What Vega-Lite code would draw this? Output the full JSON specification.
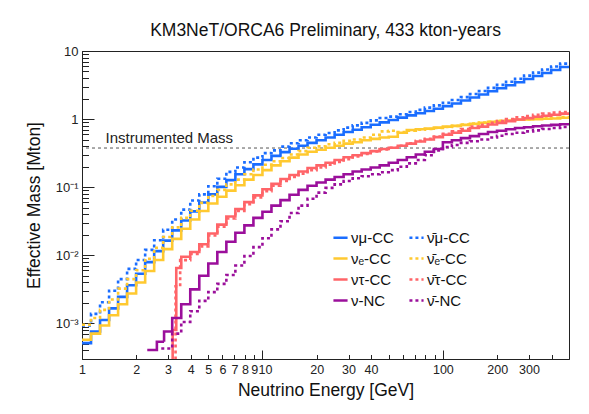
{
  "$schema": "https://vega.github.io/schema/vega-lite/v6.json",
  "width": 487,
  "height": 308,
  "autosize": "none",
  "padding": {"left": 82, "top": 51, "right": 20, "bottom": 55},
  "background": "white",
  "title": {"text": "KM3NeT/ORCA6 Preliminary, 433 kton-years", "fontSize": 17.5, "fontWeight": "normal", "font": "Liberation Sans", "color": "#111", "anchor": "middle", "offset": 6},
  "config": {
    "view": {"stroke": "#222", "strokeWidth": 1},
    "font": "Liberation Sans",
    "axis": {"labelFont": "Liberation Sans", "labelFontSize": 13, "labelColor": "#222", "titleFont": "Liberation Sans", "titleFontSize": 17.5, "titleFontWeight": "normal", "titleColor": "#111", "domainColor": "#222", "tickColor": "#222", "grid": false, "labelOverlap": false, "labelBound": false, "labelFlush": false}
  },
  "resolve": {"axis": {"x": "independent", "y": "independent"}},
  "datasets": {
    "h": [
      {"s":"mu","e":1,"m":0.000513},{"s":"mu","e":1.122,"m":0.000759},{"s":"mu","e":1.259,"m":0.00112},{"s":"mu","e":1.413,"m":0.00166},{"s":"mu","e":1.585,"m":0.00245},{"s":"mu","e":1.778,"m":0.00363},{"s":"mu","e":1.995,"m":0.00537},{"s":"mu","e":2.239,"m":0.00794},{"s":"mu","e":2.512,"m":0.0115},{"s":"mu","e":2.818,"m":0.0164},{"s":"mu","e":3.162,"m":0.0232},{"s":"mu","e":3.548,"m":0.0324},{"s":"mu","e":3.981,"m":0.0442},{"s":"mu","e":4.467,"m":0.0596},{"s":"mu","e":5.012,"m":0.0785},{"s":"mu","e":5.623,"m":0.101},{"s":"mu","e":6.31,"m":0.127},{"s":"mu","e":7.079,"m":0.155},{"s":"mu","e":7.943,"m":0.184},{"s":"mu","e":8.913,"m":0.216},{"s":"mu","e":10,"m":0.251},{"s":"mu","e":11.22,"m":0.288},{"s":"mu","e":12.59,"m":0.327},{"s":"mu","e":14.13,"m":0.367},{"s":"mu","e":15.85,"m":0.407},{"s":"mu","e":17.78,"m":0.447},{"s":"mu","e":19.95,"m":0.49},{"s":"mu","e":22.39,"m":0.537},{"s":"mu","e":25.12,"m":0.589},{"s":"mu","e":28.18,"m":0.646},{"s":"mu","e":31.62,"m":0.697},{"s":"mu","e":35.48,"m":0.759},{"s":"mu","e":39.81,"m":0.826},{"s":"mu","e":44.67,"m":0.895},{"s":"mu","e":50.12,"m":0.97},{"s":"mu","e":56.23,"m":1.052},{"s":"mu","e":63.1,"m":1.135},{"s":"mu","e":70.79,"m":1.216},{"s":"mu","e":79.43,"m":1.312},{"s":"mu","e":89.13,"m":1.419},{"s":"mu","e":100,"m":1.549},{"s":"mu","e":112.2,"m":1.698},{"s":"mu","e":125.9,"m":1.871},{"s":"mu","e":141.3,"m":2.08},{"s":"mu","e":158.5,"m":2.301},{"s":"mu","e":177.8,"m":2.559},{"s":"mu","e":199.5,"m":2.831},{"s":"mu","e":223.9,"m":3.148},{"s":"mu","e":251.2,"m":3.483},{"s":"mu","e":281.8,"m":3.873},{"s":"mu","e":316.2,"m":4.285},{"s":"mu","e":354.8,"m":4.764},{"s":"mu","e":398.1,"m":5.272},{"s":"mu","e":446.7,"m":5.821},{"s":"mu","e":501.2,"m":5.821},

      {"s":"amu","e":1,"m":0.000933},{"s":"amu","e":1.122,"m":0.00138},{"s":"amu","e":1.259,"m":0.00204},{"s":"amu","e":1.413,"m":0.00302},{"s":"amu","e":1.585,"m":0.00447},{"s":"amu","e":1.778,"m":0.00631},{"s":"amu","e":1.995,"m":0.00851},{"s":"amu","e":2.239,"m":0.012},{"s":"amu","e":2.512,"m":0.0166},{"s":"amu","e":2.818,"m":0.0237},{"s":"amu","e":3.162,"m":0.0335},{"s":"amu","e":3.548,"m":0.0468},{"s":"amu","e":3.981,"m":0.0638},{"s":"amu","e":4.467,"m":0.0785},{"s":"amu","e":5.012,"m":0.1035},{"s":"amu","e":5.623,"m":0.133},{"s":"amu","e":6.31,"m":0.168},{"s":"amu","e":7.079,"m":0.195},{"s":"amu","e":7.943,"m":0.232},{"s":"amu","e":8.913,"m":0.272},{"s":"amu","e":10,"m":0.316},{"s":"amu","e":11.22,"m":0.347},{"s":"amu","e":12.59,"m":0.394},{"s":"amu","e":14.13,"m":0.442},{"s":"amu","e":15.85,"m":0.49},{"s":"amu","e":17.78,"m":0.537},{"s":"amu","e":19.95,"m":0.589},{"s":"amu","e":22.39,"m":0.624},{"s":"amu","e":25.12,"m":0.684},{"s":"amu","e":28.18,"m":0.75},{"s":"amu","e":31.62,"m":0.809},{"s":"amu","e":35.48,"m":0.881},{"s":"amu","e":39.81,"m":0.959},{"s":"amu","e":44.67,"m":1.04},{"s":"amu","e":50.12,"m":1.089},{"s":"amu","e":56.23,"m":1.18},{"s":"amu","e":63.1,"m":1.274},{"s":"amu","e":70.79,"m":1.365},{"s":"amu","e":79.43,"m":1.472},{"s":"amu","e":89.13,"m":1.592},{"s":"amu","e":100,"m":1.738},{"s":"amu","e":112.2,"m":1.905},{"s":"amu","e":125.9,"m":2.099},{"s":"amu","e":141.3,"m":2.333},{"s":"amu","e":158.5,"m":2.582},{"s":"amu","e":177.8,"m":2.871},{"s":"amu","e":199.5,"m":3.177},{"s":"amu","e":223.9,"m":3.532},{"s":"amu","e":251.2,"m":3.908},{"s":"amu","e":281.8,"m":4.345},{"s":"amu","e":316.2,"m":4.808},{"s":"amu","e":354.8,"m":5.346},{"s":"amu","e":398.1,"m":5.916},{"s":"amu","e":446.7,"m":6.531},{"s":"amu","e":501.2,"m":6.531},

      {"s":"e","e":1,"m":0.000575},{"s":"e","e":1.122,"m":0.000708},{"s":"e","e":1.259,"m":0.000933},{"s":"e","e":1.413,"m":0.00132},{"s":"e","e":1.585,"m":0.00191},{"s":"e","e":1.778,"m":0.00275},{"s":"e","e":1.995,"m":0.00398},{"s":"e","e":2.239,"m":0.00589},{"s":"e","e":2.512,"m":0.00851},{"s":"e","e":2.818,"m":0.0123},{"s":"e","e":3.162,"m":0.0174},{"s":"e","e":3.548,"m":0.0245},{"s":"e","e":3.981,"m":0.0335},{"s":"e","e":4.467,"m":0.0447},{"s":"e","e":5.012,"m":0.0575},{"s":"e","e":5.623,"m":0.0724},{"s":"e","e":6.31,"m":0.0891},{"s":"e","e":7.079,"m":0.107},{"s":"e","e":7.943,"m":0.129},{"s":"e","e":8.913,"m":0.151},{"s":"e","e":10,"m":0.178},{"s":"e","e":11.22,"m":0.209},{"s":"e","e":12.59,"m":0.24},{"s":"e","e":14.13,"m":0.272},{"s":"e","e":15.85,"m":0.302},{"s":"e","e":17.78,"m":0.331},{"s":"e","e":19.95,"m":0.355},{"s":"e","e":22.39,"m":0.38},{"s":"e","e":25.12,"m":0.407},{"s":"e","e":28.18,"m":0.437},{"s":"e","e":31.62,"m":0.457},{"s":"e","e":35.48,"m":0.49},{"s":"e","e":39.81,"m":0.513},{"s":"e","e":44.67,"m":0.537},{"s":"e","e":50.12,"m":0.55},{"s":"e","e":56.23,"m":0.631},{"s":"e","e":63.1,"m":0.692},{"s":"e","e":70.79,"m":0.708},{"s":"e","e":79.43,"m":0.724},{"s":"e","e":89.13,"m":0.75},{"s":"e","e":100,"m":0.776},{"s":"e","e":112.2,"m":0.794},{"s":"e","e":125.9,"m":0.822},{"s":"e","e":141.3,"m":0.851},{"s":"e","e":158.5,"m":0.881},{"s":"e","e":177.8,"m":0.912},{"s":"e","e":199.5,"m":0.933},{"s":"e","e":223.9,"m":0.955},{"s":"e","e":251.2,"m":0.977},{"s":"e","e":281.8,"m":0.989},{"s":"e","e":316.2,"m":1.0},{"s":"e","e":354.8,"m":1.012},{"s":"e","e":398.1,"m":1.023},{"s":"e","e":446.7,"m":1.047},{"s":"e","e":501.2,"m":1.047},

      {"s":"ae","e":1,"m":0.000955},{"s":"ae","e":1.122,"m":0.0012},{"s":"ae","e":1.259,"m":0.00158},{"s":"ae","e":1.413,"m":0.00224},{"s":"ae","e":1.585,"m":0.00324},{"s":"ae","e":1.778,"m":0.00447},{"s":"ae","e":1.995,"m":0.00603},{"s":"ae","e":2.239,"m":0.00891},{"s":"ae","e":2.512,"m":0.0129},{"s":"ae","e":2.818,"m":0.0186},{"s":"ae","e":3.162,"m":0.0257},{"s":"ae","e":3.548,"m":0.0355},{"s":"ae","e":3.981,"m":0.0452},{"s":"ae","e":4.467,"m":0.0589},{"s":"ae","e":5.012,"m":0.0741},{"s":"ae","e":5.623,"m":0.0912},{"s":"ae","e":6.31,"m":0.11},{"s":"ae","e":7.079,"m":0.129},{"s":"ae","e":7.943,"m":0.155},{"s":"ae","e":8.913,"m":0.182},{"s":"ae","e":10,"m":0.214},{"s":"ae","e":11.22,"m":0.24},{"s":"ae","e":12.59,"m":0.269},{"s":"ae","e":14.13,"m":0.302},{"s":"ae","e":15.85,"m":0.339},{"s":"ae","e":17.78,"m":0.38},{"s":"ae","e":19.95,"m":0.398},{"s":"ae","e":22.39,"m":0.427},{"s":"ae","e":25.12,"m":0.447},{"s":"ae","e":28.18,"m":0.479},{"s":"ae","e":31.62,"m":0.501},{"s":"ae","e":35.48,"m":0.537},{"s":"ae","e":39.81,"m":0.589},{"s":"ae","e":44.67,"m":0.661},{"s":"ae","e":50.12,"m":0.676},{"s":"ae","e":56.23,"m":0.646},{"s":"ae","e":63.1,"m":0.676},{"s":"ae","e":70.79,"m":0.7},{"s":"ae","e":79.43,"m":0.716},{"s":"ae","e":89.13,"m":0.741},{"s":"ae","e":100,"m":0.767},{"s":"ae","e":112.2,"m":0.794},{"s":"ae","e":125.9,"m":0.832},{"s":"ae","e":141.3,"m":0.861},{"s":"ae","e":158.5,"m":0.891},{"s":"ae","e":177.8,"m":0.912},{"s":"ae","e":199.5,"m":0.944},{"s":"ae","e":223.9,"m":0.966},{"s":"ae","e":251.2,"m":0.989},{"s":"ae","e":281.8,"m":1.0},{"s":"ae","e":316.2,"m":1.012},{"s":"ae","e":354.8,"m":1.035},{"s":"ae","e":398.1,"m":1.047},{"s":"ae","e":446.7,"m":1.072},{"s":"ae","e":501.2,"m":1.072},

      {"s":"t","e":2.9,"m":0.0001},{"s":"t","e":3.18,"m":0.0008},{"s":"t","e":3.33,"m":0.0065},{"s":"t","e":3.55,"m":0.0095},{"s":"t","e":3.981,"m":0.0112},{"s":"t","e":4.467,"m":0.0145},{"s":"t","e":5.012,"m":0.0209},{"s":"t","e":5.623,"m":0.0282},{"s":"t","e":6.31,"m":0.0372},{"s":"t","e":7.079,"m":0.0479},{"s":"t","e":7.943,"m":0.0603},{"s":"t","e":8.913,"m":0.0759},{"s":"t","e":10,"m":0.0933},{"s":"t","e":11.22,"m":0.112},{"s":"t","e":12.59,"m":0.132},{"s":"t","e":14.13,"m":0.151},{"s":"t","e":15.85,"m":0.17},{"s":"t","e":17.78,"m":0.191},{"s":"t","e":19.95,"m":0.209},{"s":"t","e":22.39,"m":0.229},{"s":"t","e":25.12,"m":0.251},{"s":"t","e":28.18,"m":0.275},{"s":"t","e":31.62,"m":0.295},{"s":"t","e":35.48,"m":0.316},{"s":"t","e":39.81,"m":0.339},{"s":"t","e":44.67,"m":0.363},{"s":"t","e":50.12,"m":0.38},{"s":"t","e":56.23,"m":0.407},{"s":"t","e":63.1,"m":0.437},{"s":"t","e":70.79,"m":0.468},{"s":"t","e":79.43,"m":0.501},{"s":"t","e":89.13,"m":0.543},{"s":"t","e":100,"m":0.589},{"s":"t","e":112.2,"m":0.631},{"s":"t","e":125.9,"m":0.676},{"s":"t","e":141.3,"m":0.741},{"s":"t","e":158.5,"m":0.776},{"s":"t","e":177.8,"m":0.832},{"s":"t","e":199.5,"m":0.881},{"s":"t","e":223.9,"m":0.933},{"s":"t","e":251.2,"m":0.989},{"s":"t","e":281.8,"m":1.035},{"s":"t","e":316.2,"m":1.084},{"s":"t","e":354.8,"m":1.122},{"s":"t","e":398.1,"m":1.161},{"s":"t","e":446.7,"m":1.202},{"s":"t","e":501.2,"m":1.202},

      {"s":"at","e":2.9,"m":0.0001},{"s":"at","e":3.3,"m":0.0035},{"s":"at","e":3.5,"m":0.0085},{"s":"at","e":3.981,"m":0.0105},{"s":"at","e":4.467,"m":0.0135},{"s":"at","e":5.012,"m":0.0195},{"s":"at","e":5.623,"m":0.0263},{"s":"at","e":6.31,"m":0.0347},{"s":"at","e":7.079,"m":0.0447},{"s":"at","e":7.943,"m":0.0562},{"s":"at","e":8.913,"m":0.0708},{"s":"at","e":10,"m":0.0871},{"s":"at","e":11.22,"m":0.105},{"s":"at","e":12.59,"m":0.123},{"s":"at","e":14.13,"m":0.141},{"s":"at","e":15.85,"m":0.158},{"s":"at","e":17.78,"m":0.178},{"s":"at","e":19.95,"m":0.195},{"s":"at","e":22.39,"m":0.214},{"s":"at","e":25.12,"m":0.234},{"s":"at","e":28.18,"m":0.257},{"s":"at","e":31.62,"m":0.282},{"s":"at","e":35.48,"m":0.309},{"s":"at","e":39.81,"m":0.335},{"s":"at","e":44.67,"m":0.359},{"s":"at","e":50.12,"m":0.38},{"s":"at","e":56.23,"m":0.407},{"s":"at","e":63.1,"m":0.442},{"s":"at","e":70.79,"m":0.479},{"s":"at","e":79.43,"m":0.513},{"s":"at","e":89.13,"m":0.556},{"s":"at","e":100,"m":0.61},{"s":"at","e":112.2,"m":0.661},{"s":"at","e":125.9,"m":0.716},{"s":"at","e":141.3,"m":0.776},{"s":"at","e":158.5,"m":0.822},{"s":"at","e":177.8,"m":0.881},{"s":"at","e":199.5,"m":0.933},{"s":"at","e":223.9,"m":1.0},{"s":"at","e":251.2,"m":1.059},{"s":"at","e":281.8,"m":1.109},{"s":"at","e":316.2,"m":1.161},{"s":"at","e":354.8,"m":1.202},{"s":"at","e":398.1,"m":1.245},{"s":"at","e":446.7,"m":1.274},{"s":"at","e":501.2,"m":1.274},

      {"s":"nc","e":2.3,"m":0.000407},{"s":"nc","e":2.6,"m":0.000537},{"s":"nc","e":2.85,"m":0.000759},{"s":"nc","e":3.162,"m":0.0012},{"s":"nc","e":3.548,"m":0.00191},{"s":"nc","e":3.981,"m":0.00316},{"s":"nc","e":4.467,"m":0.00501},{"s":"nc","e":5.012,"m":0.00759},{"s":"nc","e":5.623,"m":0.0112},{"s":"nc","e":6.31,"m":0.0158},{"s":"nc","e":7.079,"m":0.0214},{"s":"nc","e":7.943,"m":0.0275},{"s":"nc","e":8.913,"m":0.0355},{"s":"nc","e":10,"m":0.0437},{"s":"nc","e":11.22,"m":0.0537},{"s":"nc","e":12.59,"m":0.0646},{"s":"nc","e":14.13,"m":0.0776},{"s":"nc","e":15.85,"m":0.0912},{"s":"nc","e":17.78,"m":0.105},{"s":"nc","e":19.95,"m":0.117},{"s":"nc","e":22.39,"m":0.129},{"s":"nc","e":25.12,"m":0.141},{"s":"nc","e":28.18,"m":0.155},{"s":"nc","e":31.62,"m":0.17},{"s":"nc","e":35.48,"m":0.182},{"s":"nc","e":39.81,"m":0.195},{"s":"nc","e":44.67,"m":0.209},{"s":"nc","e":50.12,"m":0.229},{"s":"nc","e":56.23,"m":0.251},{"s":"nc","e":63.1,"m":0.275},{"s":"nc","e":70.79,"m":0.302},{"s":"nc","e":79.43,"m":0.331},{"s":"nc","e":89.13,"m":0.363},{"s":"nc","e":100,"m":0.457},{"s":"nc","e":112.2,"m":0.49},{"s":"nc","e":125.9,"m":0.525},{"s":"nc","e":141.3,"m":0.562},{"s":"nc","e":158.5,"m":0.603},{"s":"nc","e":177.8,"m":0.646},{"s":"nc","e":199.5,"m":0.676},{"s":"nc","e":223.9,"m":0.708},{"s":"nc","e":251.2,"m":0.741},{"s":"nc","e":281.8,"m":0.759},{"s":"nc","e":316.2,"m":0.785},{"s":"nc","e":354.8,"m":0.804},{"s":"nc","e":398.1,"m":0.822},{"s":"nc","e":446.7,"m":0.841},{"s":"nc","e":501.2,"m":0.841},

      {"s":"anc","e":2.75,"m":0.000427},{"s":"anc","e":3.162,"m":0.000708},{"s":"anc","e":3.548,"m":0.00105},{"s":"anc","e":3.981,"m":0.00151},{"s":"anc","e":4.467,"m":0.00214},{"s":"anc","e":5.012,"m":0.00288},{"s":"anc","e":5.623,"m":0.0038},{"s":"anc","e":6.31,"m":0.00513},{"s":"anc","e":7.079,"m":0.00708},{"s":"anc","e":7.943,"m":0.00977},{"s":"anc","e":8.913,"m":0.0132},{"s":"anc","e":10,"m":0.0178},{"s":"anc","e":11.22,"m":0.024},{"s":"anc","e":12.59,"m":0.0316},{"s":"anc","e":14.13,"m":0.0417},{"s":"anc","e":15.85,"m":0.0537},{"s":"anc","e":17.78,"m":0.0676},{"s":"anc","e":19.95,"m":0.0832},{"s":"anc","e":22.39,"m":0.0977},{"s":"anc","e":25.12,"m":0.11},{"s":"anc","e":28.18,"m":0.123},{"s":"anc","e":31.62,"m":0.135},{"s":"anc","e":35.48,"m":0.145},{"s":"anc","e":39.81,"m":0.155},{"s":"anc","e":44.67,"m":0.166},{"s":"anc","e":50.12,"m":0.178},{"s":"anc","e":56.23,"m":0.2},{"s":"anc","e":63.1,"m":0.224},{"s":"anc","e":70.79,"m":0.251},{"s":"anc","e":79.43,"m":0.295},{"s":"anc","e":89.13,"m":0.347},{"s":"anc","e":100,"m":0.389},{"s":"anc","e":112.2,"m":0.417},{"s":"anc","e":125.9,"m":0.447},{"s":"anc","e":141.3,"m":0.473},{"s":"anc","e":158.5,"m":0.501},{"s":"anc","e":177.8,"m":0.537},{"s":"anc","e":199.5,"m":0.569},{"s":"anc","e":223.9,"m":0.603},{"s":"anc","e":251.2,"m":0.631},{"s":"anc","e":281.8,"m":0.661},{"s":"anc","e":316.2,"m":0.684},{"s":"anc","e":354.8,"m":0.716},{"s":"anc","e":398.1,"m":0.741},{"s":"anc","e":446.7,"m":0.767},{"s":"anc","e":501.2,"m":0.767}
    ],
    "inst": [{"label": "Instrumented Mass", "m": 0.376}]
  },
  "layer": [
    {
      "data": {"name": "inst"},
      "mark": {"type": "rule", "strokeDash": [3, 3], "color": "#555", "strokeWidth": 1},
      "encoding": {
        "y": {"field": "m", "type": "quantitative", "scale": {"type": "log", "domain": [0.0003, 10], "nice": false},
          "axis": {"orient": "left", "title": null, "labels": false, "domain": false, "tickSize": -6.5,
            "values": [0.0004,0.0005,0.0006,0.0007,0.0008,0.0009,0.002,0.003,0.004,0.005,0.006,0.007,0.008,0.009,0.02,0.03,0.04,0.05,0.06,0.07,0.08,0.09,0.2,0.3,0.4,0.5,0.6,0.7,0.8,0.9,2,3,4,5,6,7,8,9]}}
      }
    },
    {
      "data": {"name": "inst"},
      "mark": {"type": "text", "align": "left", "baseline": "bottom", "dy": -2, "fontSize": 15, "font": "Liberation Sans", "color": "#222"},
      "encoding": {
        "text": {"field": "label"},
        "x": {"datum": 1.35, "type": "quantitative", "scale": {"type": "log", "domain": [1, 500], "nice": false},
          "axis": {"orient": "bottom", "title": null, "labels": false, "domain": false, "tickSize": -4.5,
            "values": [2,3,4,5,6,7,8,9,20,30,40,50,60,70,80,90,200,300,400]}},
        "y": {"field": "m", "type": "quantitative", "axis": null}
      }
    },
    {
      "data": {"name": "inst"},
      "mark": {"type": "text", "text": ""},
      "encoding": {
        "x": {"datum": 1.35, "type": "quantitative",
          "axis": {"orient": "bottom", "title": null, "domain": false, "tickSize": -9, "labelPadding": 13, "labelFontSize": 12.5, "labelOffset": 2.5,
            "values": [10], "labelExpr": "'10'"}},
        "y": {"field": "m", "type": "quantitative", "axis": null}
      }
    },
    {
      "data": {"name": "h"},
      "mark": {"type": "line", "interpolate": "step-after", "strokeWidth": 2.6, "clip": true},
      "encoding": {
        "x": {
          "field": "e", "type": "quantitative",
          "scale": {"type": "log", "domain": [1, 500], "nice": false},
          "axis": {
            "orient": "bottom",
            "title": "Neutrino Energy [GeV]",
            "titlePadding": 6,
            "values": [1,2,3,4,5,6,7,8,9,20,30,40,100,200,300],
            "labelExpr": "'' + datum.value",
            "labelFontSize": 12.5,
            "tickSize": -9,
            "labelPadding": 13,
            "tickOpacity": {"condition": {"test": "datum.value == 1 || datum.value == 100", "value": 1}, "value": 0}
          }
        },
        "y": {
          "field": "m", "type": "quantitative",
          "scale": {"type": "log", "domain": [0.0003, 10], "nice": false},
          "axis": {
            "orient": "left",
            "title": "Effective Mass [Mton]",
            "titlePadding": 12,
            "values": [0.001,0.01,0.1,1,10],
            "labelExpr": "datum.value == 10 ? '10' : datum.value == 1 ? '1' : datum.value == 0.1 ? '10⁻¹' : datum.value == 0.01 ? '10⁻²' : '10⁻³'",
            "tickSize": -12,
            "labelPadding": 16
          }
        },
        "color": {
          "field": "s", "type": "nominal",
          "scale": {"domain": ["mu","e","t","nc","amu","ae","at","anc"], "range": ["#1a6dff","#ffc930","#ff6468","#9b0f9b","#1a6dff","#ffc930","#ff6468","#9b0f9b"]},
          "legend": {
            "orient": "none", "legendX": 250, "legendY": 178, "columns": 2, "title": null,
            "symbolType": "stroke", "symbolSize": 200, "symbolStrokeWidth": 2.6,
            "labelFontSize": 15, "labelFont": "Liberation Sans", "labelColor": "#111",
            "rowPadding": 4, "columnPadding": 10, "labelOffset": 2,
            "labelExpr": "datum.label == 'mu' ? 'νμ-CC' : datum.label == 'amu' ? 'ν̄μ-CC' : datum.label == 'e' ? 'νₑ-CC' : datum.label == 'ae' ? 'ν̄ₑ-CC' : datum.label == 't' ? 'ντ-CC' : datum.label == 'at' ? 'ν̄τ-CC' : datum.label == 'nc' ? 'ν-NC' : 'ν̄-NC'"
          }
        },
        "strokeDash": {
          "field": "s", "type": "nominal",
          "scale": {"domain": ["mu","e","t","nc","amu","ae","at","anc"], "range": [[1,0],[1,0],[1,0],[1,0],[3,3],[3,3],[3,3],[3,3]]},
          "legend": {
            "orient": "none", "legendX": 250, "legendY": 178, "columns": 2, "title": null,
            "symbolType": "stroke", "symbolSize": 200, "symbolStrokeWidth": 2.6,
            "labelFontSize": 15, "labelFont": "Liberation Sans", "labelColor": "#111",
            "rowPadding": 4, "columnPadding": 10, "labelOffset": 2,
            "labelExpr": "datum.label == 'mu' ? 'νμ-CC' : datum.label == 'amu' ? 'ν̄μ-CC' : datum.label == 'e' ? 'νₑ-CC' : datum.label == 'ae' ? 'ν̄ₑ-CC' : datum.label == 't' ? 'ντ-CC' : datum.label == 'at' ? 'ν̄τ-CC' : datum.label == 'nc' ? 'ν-NC' : 'ν̄-NC'"
          }
        }
      }
    }
  ]
}
